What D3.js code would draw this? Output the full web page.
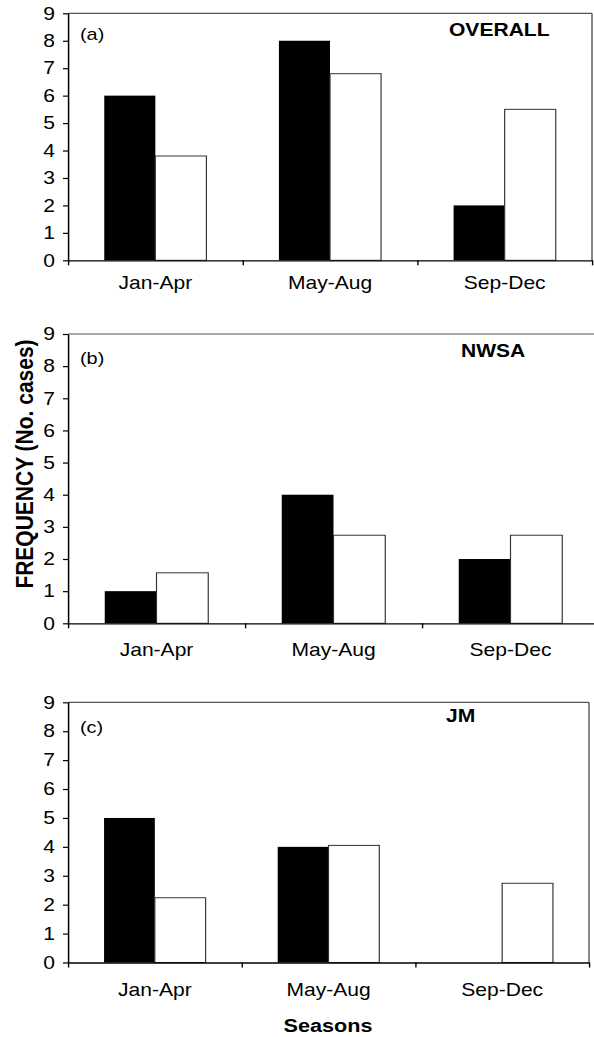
<!DOCTYPE html>
<html>
<head>
<meta charset="utf-8">
<script src="https://cdn.jsdelivr.net/npm/d3@7"></script>
<style>
  body { margin: 0; background: #fff; }
  svg { display: block; }
  text { font-family: "Liberation Sans", Arial, Helvetica, sans-serif; fill: #000; }
  .domain { stroke: #000; stroke-width: 1.3; }
  .tick line { stroke: #000; stroke-width: 1.2; }
</style>
</head>
<body>
<script>
// data
var seasons = ["Jan-Apr", "May-Aug", "Sep-Dec"];
var yTicks = [0, 1, 2, 3, 4, 5, 6, 7, 8, 9];

var overallBlack = [6, 8, 2];
var overallWhite = [3.8, 6.8, 5.5];
var nwsaBlack = [1, 4, 2];
var nwsaWhite = [1.57, 2.74, 2.74];
var jmBlack = [5, 4, 0];
var jmWhite = [2.24, 4.05, 2.74];

var W = 594, H = 1037;
var sx = 1.17; // the original figure is stretched sideways
var vw = W / sx;

var svg = d3.select("body").append("svg")
    .attr("width", W)
    .attr("height", H)
    .attr("viewBox", "0 0 " + vw + " " + H)
    .attr("preserveAspectRatio", "none");

// panel layout in screen pixels
var panels = [
  {black: overallBlack, white: overallWhite, tag: "(a)", name: "OVERALL",
   left: 68, right: 592, top: 13.3, zero: 260.3, labOff: 29, tagY: 40, nameX: 449, nameY: 36},
  {black: nwsaBlack, white: nwsaWhite, tag: "(b)", name: "NWSA",
   left: 68, right: 599, top: 334, zero: 623.3, labOff: 33, tagY: 364, nameX: 461, nameY: 357},
  {black: jmBlack, white: jmWhite, tag: "(c)", name: "JM",
   left: 68, right: 589, top: 702.3, zero: 962.5, labOff: 34, tagY: 733, nameX: 446, nameY: 722}
];

panels.forEach(function(p) {
  var x = d3.scaleBand().domain(seasons)
      .range([p.left / sx, p.right / sx]).padding(0);
  var xs = d3.scaleBand().domain(["black", "white"])
      .range([0, x.bandwidth()]).paddingInner(0).paddingOuter(0.71);
  var y = d3.scaleLinear().domain([0, 9]).range([p.zero, p.top]);
  var xb = d3.scaleLinear().domain([0, 3]).range(x.range());

  var g = svg.append("g");

  // plot area border (top and right)
  g.append("line")
      .attr("x1", p.left / sx).attr("x2", p.right / sx)
      .attr("y1", p.top).attr("y2", p.top)
      .attr("stroke", "#555").attr("stroke-width", 1.2);
  g.append("line")
      .attr("x1", p.right / sx).attr("x2", p.right / sx)
      .attr("y1", p.top).attr("y2", p.zero)
      .attr("stroke", "#555").attr("stroke-width", 1.2);

  var rows = seasons.map(function(s, i) {
    return {season: s, black: p.black[i], white: p.white[i]};
  });

  var grp = g.selectAll(".grp")
      .data(rows)
      .enter().append("g")
      .attr("transform", function(d) { return "translate(" + x(d.season) + ",0)"; });

  grp.selectAll("rect")
      .data(function(d) { return [{k: "black", v: d.black}, {k: "white", v: d.white}]; })
      .enter().append("rect")
      .attr("x", function(d) { return xs(d.k); })
      .attr("width", xs.bandwidth())
      .attr("y", function(d) { return y(d.v); })
      .attr("height", function(d) { return y(0) - y(d.v); })
      .attr("fill", function(d) { return d.k == "black" ? "#000" : "#fff"; })
      .attr("stroke", function(d) { return d.k == "black" ? "none" : "#333"; })
      .attr("stroke-width", 1);

  // y axis
  var ya = g.append("g")
      .attr("transform", "translate(" + p.left / sx + ",0)")
      .call(d3.axisLeft(y).tickValues(yTicks).tickFormat(d3.format("d"))
        .tickSize(5 / sx).tickSizeOuter(0).tickPadding(8 / sx));
  ya.selectAll("text").style("font-size", "18px");

  // x axis: boundary ticks
  g.append("g")
      .attr("transform", "translate(0," + p.zero + ")")
      .call(d3.axisBottom(xb).tickValues([0, 1, 2, 3]).tickFormat("")
        .tickSize(5).tickSizeOuter(0));

  // x axis: category labels
  var xa = g.append("g")
      .attr("transform", "translate(0," + p.zero + ")")
      .call(d3.axisBottom(x).tickSize(0));
  xa.select(".domain").remove();
  xa.selectAll("text").attr("y", p.labOff).attr("dy", null).style("font-size", "18px");

  g.append("text")
      .attr("x", 80 / sx).attr("y", p.tagY)
      .style("font-size", "17px")
      .text(p.tag);

  g.append("text")
      .attr("x", p.nameX / sx).attr("y", p.nameY)
      .style("font-size", "18px").style("font-weight", "bold")
      .text(p.name);
});

svg.append("text")
    .attr("transform", "translate(" + 33 / sx + ",464) rotate(-90)")
    .attr("text-anchor", "middle")
    .style("font-size", "21px").style("font-weight", "bold")
    .text("FREQUENCY (No. cases)");

svg.append("text")
    .attr("x", 328 / sx).attr("y", 1032)
    .attr("text-anchor", "middle")
    .style("font-size", "18.5px").style("font-weight", "bold")
    .text("Seasons");
</script>
</body>
</html>
